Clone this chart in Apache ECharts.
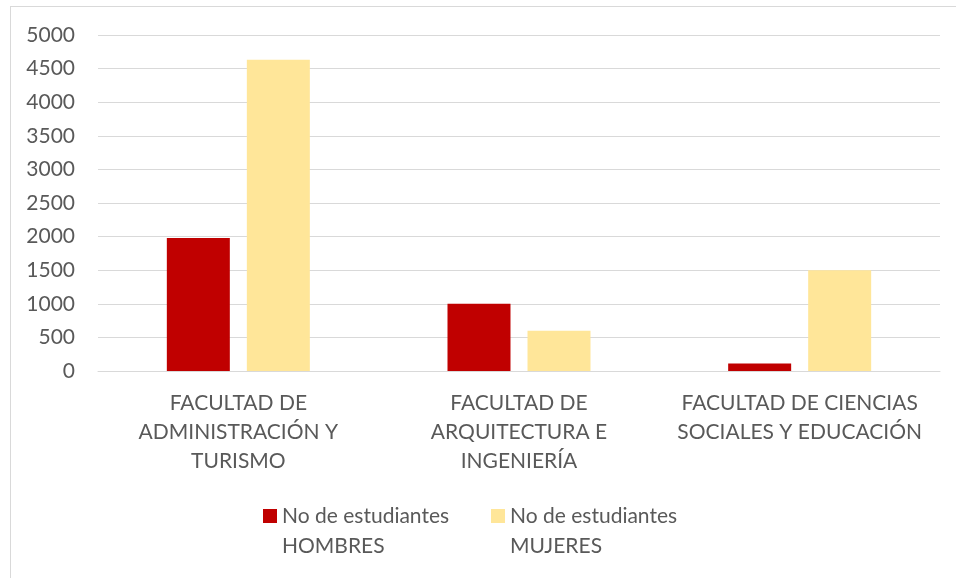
<!DOCTYPE html>
<html>
<head>
<meta charset="utf-8">
<script src="https://cdn.jsdelivr.net/npm/echarts@6/dist/echarts.min.js"></script>
<style>
  html, body { margin: 0; padding: 0; background: #fff; }
  #frame { position: absolute; left: 10px; top: 6px; width: 1000px; height: 640px; border: 1px solid #d9d9d9; }
  #chart { position: absolute; left: 0; top: 0; width: 956px; height: 578px; }
</style>
</head>
<body>
<div id="frame"></div>
<div id="chart"></div>
<script>
var faculties = ['FACULTAD DE\nADMINISTRACIÓN Y\nTURISMO', 'FACULTAD DE\nARQUITECTURA E\nINGENIERÍA', 'FACULTAD DE CIENCIAS\nSOCIALES Y EDUCACIÓN'];
var hombres = [1980, 1000, 110];
var mujeres = [4630, 600, 1500];
var seriesNames = ['No de estudiantes HOMBRES', 'No de estudiantes MUJERES'];
var legendLabels = ['No de estudiantes\nHOMBRES', 'No de estudiantes\nMUJERES'];

var textColor = '#595959';
var font = 'Lato, "Open Sans", sans-serif';
// square on top, empty space below so the icon sits on the first text line
var legendIcon = 'path://M0,0h14v14h-14z M0,44h0.01v0.01h-0.01z';

var chart = echarts.init(document.getElementById('chart'));

function makeLegend(i, left){
  return {
    data: [seriesNames[i]],
    left: left,
    top: 496,
    itemWidth: 14,
    itemHeight: 44,
    itemGap: 5,
    icon: legendIcon,
    formatter: function(){ return legendLabels[i]; },
    textStyle: { color: textColor, fontSize: 21, fontFamily: font, lineHeight: 30 }
  };
}

chart.setOption({
  animation: false,
  grid: { left: 98, right: 16, top: 35, bottom: 207 },
  legend: [makeLegend(0, 258), makeLegend(1, 486)],
  xAxis: {
    type: 'category',
    data: faculties,
    axisLine: { lineStyle: { color: '#d9d9d9', width: 1 } },
    axisTick: { show: false },
    axisLabel: { color: textColor, fontSize: 21, fontFamily: font, lineHeight: 29, margin: 18, interval: 0 }
  },
  yAxis: {
    type: 'value',
    min: 0,
    max: 5000,
    interval: 500,
    axisLine: { show: false },
    axisTick: { show: false },
    splitLine: { lineStyle: { color: '#d9d9d9', width: 1 } },
    axisLabel: { color: textColor, fontSize: 21, fontFamily: font, margin: 23, formatter: function(v){ return String(v); } }
  },
  series: [
    {
      name: seriesNames[0],
      type: 'bar',
      data: hombres,
      barWidth: 63,
      barGap: '27%',
      itemStyle: { color: '#C00000' }
    },
    {
      name: seriesNames[1],
      type: 'bar',
      data: mujeres,
      barWidth: 63,
      itemStyle: { color: '#FFE699' }
    }
  ]
});
</script>
</body>
</html>
